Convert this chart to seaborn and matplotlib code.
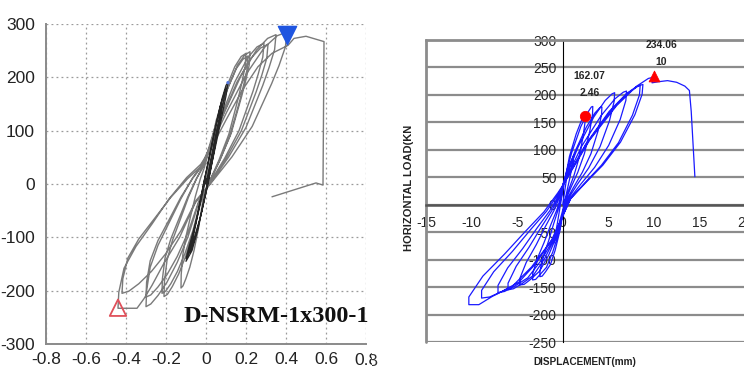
import matplotlib
matplotlib.use("Agg")
import matplotlib.pyplot as plt
import seaborn as sns
import pandas as pd
from matplotlib import font_manager
from matplotlib.transforms import Bbox, TransformedBbox

# ---------------- data: left panel (D-NSRM-1x300-1) ----------------
left_core_disp = [0, 0.02, 0.05, 0.08, 0.07, 0.04, 0.01, -0.02, -0.05, -0.08, -0.07, -0.04, -0.01, 0.02, 0.05,
                  0.08, 0.1, 0.11, 0.1, 0.07, 0.03, 0, -0.03, -0.07, -0.1, -0.09, -0.05, -0.02, 0.01, 0.04,
                  0.07, 0.1, 0.09, 0.06, 0.02, -0.01, -0.04, -0.07, -0.1, -0.08, -0.04, 0]
left_core_load = [0, 40, 95, 150, 125, 60, 0, -50, -95, -130, -110, -55, 5, 55, 110,
                  160, 185, 190, 165, 110, 40, -15, -65, -115, -140, -125, -70, -15, 40, 95,
                  145, 180, 160, 105, 30, -30, -85, -125, -145, -120, -55, 10]

left_disp = [0.0, 0.02,
             0.05, 0.1, 0.144, 0.176, 0.2, 0.196, 0.18, 0.162, 0.114, 0.064, 0.014,
             -0.015, -0.038, -0.06, -0.081, -0.1, -0.115, -0.125,
             -0.124, -0.116, -0.1, -0.078, -0.053, -0.028, -0.008,
             0.053, 0.105, 0.151, 0.185, 0.21, 0.206, 0.189, 0.17, 0.12, 0.067, 0.015,
             -0.025, -0.063, -0.101, -0.137, -0.168, -0.193, -0.21,
             -0.208, -0.195, -0.168, -0.13, -0.088, -0.046, -0.013,
             0.055, 0.11, 0.158, 0.194, 0.22, 0.216, 0.198, 0.178, 0.125, 0.07, 0.015,
             -0.026, -0.066, -0.106, -0.143, -0.176, -0.202, -0.22,
             -0.218, -0.205, -0.176, -0.136, -0.092, -0.048, -0.013,
             0.073, 0.145, 0.209, 0.255, 0.29, 0.284, 0.261, 0.235, 0.165, 0.093, 0.02,
             -0.036, -0.09, -0.144, -0.195, -0.24, -0.276, -0.3,
             -0.297, -0.279, -0.24, -0.186, -0.126, -0.066, -0.018,
             0.078, 0.155, 0.223, 0.273, 0.31, 0.304, 0.279, 0.251, 0.177, 0.099, 0.022,
             -0.036, -0.09, -0.144, -0.195, -0.24, -0.276, -0.3,
             -0.297, -0.279, -0.24, -0.186, -0.126, -0.066, -0.018,
             0.088, 0.175, 0.252, 0.308, 0.35, 0.343, 0.315, 0.284, 0.2, 0.112, 0.025,
             -0.05, -0.126, -0.202, -0.273, -0.336, -0.386, -0.42,
             -0.416, -0.391, -0.336, -0.26, -0.176, -0.092, -0.025,
             0.101, 0.203, 0.292, 0.356, 0.405, 0.397, 0.365, 0.328, 0.231, 0.13, 0.028,
             -0.053, -0.132, -0.211, -0.27, -0.31, -0.345, -0.44,
             -0.436, -0.41, -0.35, -0.27, -0.185, -0.097, -0.026,
             0.03, 0.1, 0.18, 0.26, 0.33, 0.41, 0.44, 0.5, 0.59, 0.585, 0.55, 0.33]
left_load = [10, 60,
             118, 179, 220, 239, 245, 221, 191, 162, 93, 44, 2,
             -29, -84, -125, -156, -177, -191, -195,
             -170, -133, -98, -62, -23, 10, 31,
             116, 176, 216, 234, 240, 216, 187, 158, 91, 43, 2,
             -32, -91, -135, -169, -192, -207, -211,
             -184, -143, -106, -68, -25, 11, 34,
             119, 181, 223, 242, 248, 223, 193, 164, 94, 45, 2,
             -31, -88, -131, -164, -187, -201, -205,
             -178, -139, -103, -66, -25, 10, 33,
             125, 192, 237, 257, 264, 238, 206, 174, 100, 48, 3,
             -35, -99, -147, -184, -209, -225, -230,
             -200, -156, -115, -74, -28, 12, 37,
             124, 191, 235, 255, 262, 236, 204, 173, 100, 47, 3,
             -32, -91, -136, -170, -193, -208, -212,
             -184, -144, -106, -68, -25, 11, 34,
             131, 203, 251, 273, 280, 252, 218, 185, 106, 50, 3,
             -31, -88, -131, -164, -187, -201, -205,
             -178, -139, -103, -66, -25, 10, 33,
             133, 207, 256, 278, 285, 257, 222, 188, 108, 51, 3,
             -35, -100, -149, -190, -215, -233, -233,
             -203, -158, -117, -75, -28, 12, 37,
             70, 120, 175, 220, 245, 260, 273, 277, 267, -2, 2, -24]

left_max_disp, left_max_load = [0.405], [279]
left_min_disp, left_min_load = [-0.44], [-232]
left_mark_disp, left_mark_load = [0.11], [190]

left_xticks = [-0.8, -0.6, -0.4, -0.2, 0, 0.2, 0.4, 0.6, 0.8]
left_xticklabels = ["-0.8", "-0.6", "-0.4", "-0.2", "0", "0.2", "0.4", "0.6", "0.8"]
left_yticks = [-300, -200, -100, 0, 100, 200, 300]
left_yticklabels = ["-300", "-200", "-100", "0", "100", "200", "300"]
left_title = "D-NSRM-1x300-1"

# ---------------- data: right panel ----------------
right_disp = [0, 0.4, 0.8, 1.2, 1.15, 0.8, 0.4, 0, -0.4, -0.8, -1.0, -0.9, -0.6, -0.3, 0,
              0.74, 1.48, 2.02, 2.34, 2.46, 2.44, 2.21, 1.77, 1.23, 0.69, 0.25,
              -0.3, -0.83, -1.35, -1.88, -2.25, -2.5, -2.5, -2.13, -1.55, -1.0, -0.5, -0.13, 0,
              0.99, 1.98, 2.71, 3.14, 3.3, 3.27, 2.97, 2.38, 1.65, 0.92, 0.33,
              -0.4, -1.09, -1.78, -2.48, -2.97, -3.3, -3.3, -2.81, -2.05, -1.32, -0.66, -0.17, 0,
              1.29, 2.58, 3.53, 4.09, 4.3, 4.26, 3.87, 3.1, 2.15, 1.2, 0.43,
              -0.56, -1.55, -2.54, -3.53, -4.23, -4.7, -4.7, -4.0, -2.91, -1.88, -0.94, -0.24, 0,
              1.71, 3.42, 4.67, 5.42, 5.7, 5.64, 5.13, 4.1, 2.85, 1.6, 0.57,
              -0.72, -1.98, -3.24, -4.5, -5.4, -6.0, -6.0, -5.1, -3.72, -2.4, -1.2, -0.3, 0,
              2.1, 4.2, 5.74, 6.65, 7.0, 6.93, 6.3, 5.04, 3.5, 1.96, 0.7,
              -0.85, -2.34, -3.83, -5.33, -6.39, -7.1, -7.1, -6.04, -4.4, -2.84, -1.42, -0.36, 0,
              2.55, 5.1, 6.97, 8.08, 8.5, 8.42, 7.65, 6.12, 4.25, 2.38, 0.85,
              -1.07, -2.94, -4.81, -6.68, -8.01, -8.9, -8.9, -7.57, -5.52, -3.56, -1.78, -0.45, 0,
              2.64, 5.28, 7.22, 8.36, 8.8, 8.71, 7.92, 6.34, 4.4, 2.46, 0.88,
              -1.24, -3.4, -5.56, -7.73, -9.2, -10.3, -10.3, -8.76, -6.39, -4.12, -2.06, -0.52, 0,
              2.97, 5.94, 8.12, 9.4, 9.9, 9.8, 10.5, 11.5, 12.5, 13.4, 13.9, 14.1, 14.3, 14.5]
right_load = [0, 45, 75, 90, 80, 50, 20, -10, -35, -60, -70, -62, -35, -5, 25,
              88, 129, 152, 161, 162, 149, 122, 84, 53, 29, 8,
              -47, -83, -109, -122, -130, -131, -121, -94, -66, -35, -9, 16, 35,
              95, 142, 167, 178, 179, 165, 134, 93, 59, 32, 9,
              -49, -86, -114, -127, -136, -137, -126, -99, -69, -37, -10, 16, 35,
              95, 141, 167, 177, 178, 164, 134, 93, 59, 32, 9,
              -53, -92, -121, -136, -145, -146, -134, -105, -73, -39, -10, 18, 35,
              106, 160, 190, 202, 204, 188, 153, 106, 67, 37, 10,
              -56, -98, -129, -144, -153, -155, -143, -112, -78, -42, -11, 19, 35,
              107, 162, 193, 205, 207, 190, 155, 108, 68, 37, 10,
              -58, -101, -133, -149, -158, -160, -147, -115, -80, -43, -11, 19, 35,
              111, 170, 202, 215, 217, 200, 163, 113, 72, 39, 11,
              -61, -107, -141, -158, -168, -170, -156, -122, -85, -46, -12, 20, 35,
              112, 171, 204, 217, 219, 201, 164, 114, 72, 39, 11,
              -65, -113, -149, -167, -182, -182, -168, -130, -90, -49, -13, 22, 35,
              118, 181, 216, 230, 232, 222, 224, 226, 223, 216, 208, 170, 110, 51]

right_peak_disp = [2.46, 10]
right_peak_load = [162.07, 234.06]

right_xticks = [-15, -10, -5, 0, 5, 10, 15, 20]
right_yticks = [-250, -200, -150, -100, -50, 0, 50, 100, 150, 200, 250, 300]
right_xlabel = "DISPLACEMENT(mm)"
right_ylabel = "HORIZONTAL LOAD(KN"
corner_letter = "B"

# ---------------- figure ----------------
sns.set_style("white")
names = {f.name for f in font_manager.fontManager.ttflist}
narrow = "Liberation Sans Narrow" if "Liberation Sans Narrow" in names else "Liberation Sans"
plt.rcParams["font.family"] = ["Liberation Sans", "DejaVu Sans"]

W, H = 744, 368
fig = plt.figure(figsize=(W / 100, H / 100), dpi=100)
ax1 = fig.add_axes([46 / W, 1 - 344 / H, 320 / W, 320 / H])
ax2 = fig.add_axes([426 / W, 1 - 342 / H, 319 / W, 302 / H])

# ---- left panel ----
df_core = pd.DataFrame({"disp": left_core_disp, "load": left_core_load})
df_left = pd.DataFrame({"disp": left_disp, "load": left_load})
sns.lineplot(data=df_left, x="disp", y="load", sort=False, estimator=None,
             color="#7a7a7a", lw=1.0, ax=ax1, zorder=3)
sns.lineplot(data=df_core, x="disp", y="load", sort=False, estimator=None,
             color="#262626", lw=0.9, ax=ax1, zorder=4)
sns.scatterplot(x=left_max_disp, y=left_max_load, marker="v", s=170, color="#1f55e0",
                edgecolor="#1f55e0", ax=ax1, zorder=6)
sns.scatterplot(x=left_min_disp, y=left_min_load, marker="^", s=140, facecolor="none",
                edgecolor="#e0505a", linewidth=1.3, ax=ax1, zorder=6)
sns.scatterplot(x=left_mark_disp, y=left_mark_load, marker="o", s=6, color="#5577dd",
                edgecolor="none", ax=ax1, zorder=6)

ax1.set_xlim(-0.8, 0.8)
ax1.set_ylim(-300, 300)
tick_font = dict(fontsize=12.5, family=[narrow, "Liberation Sans"], color="#222222")
ax1.set_xticks(left_xticks, left_xticklabels[:-1] + [""], **tick_font)
ax1.set_yticks(left_yticks, left_yticklabels, **tick_font)
ax1.grid(True, color="#9a9a9a", linestyle=(0, (1.5, 2.5)), lw=0.9)
ax1.set_axisbelow(True)
for s in ["top", "right"]:
    ax1.spines[s].set_visible(False)
for s in ["left", "bottom"]:
    ax1.spines[s].set_color("#8a8a8a")
    ax1.spines[s].set_linewidth(1.4)
ax1.tick_params(axis="both", length=2, color="#9a9a9a")
ax1.tick_params(axis="y", pad=6)
ax1.tick_params(axis="x", pad=4)
ax1.set_xlabel("")
ax1.set_ylabel("")
ax1.text(0.35, -248, left_title, ha="center", va="center", fontsize=17.5,
         family="Liberation Serif", fontweight="bold", color="#111111", zorder=7)

# last x tick label, cut at the panel edge like the reference
last = fig.text(366 / W, 1 - 353 / H, left_xticklabels[-1], ha="center", va="top", **tick_font)
last.set_clip_on(True)
last.set_clip_box(TransformedBbox(Bbox([[0, 0], [372 / W, 1]]), fig.transFigure))

# ---- right panel ----
df_right = pd.DataFrame({"disp": right_disp, "load": right_load})
sns.lineplot(data=df_right, x="disp", y="load", sort=False, estimator=None,
             color="#1a1aff", lw=0.9, ax=ax2, zorder=3)
sns.scatterplot(x=right_peak_disp[:1], y=right_peak_load[:1], marker="o", s=55, color="#ff0000",
                edgecolor="#ff0000", ax=ax2, zorder=6)
sns.scatterplot(x=right_peak_disp[1:], y=right_peak_load[1:], marker="^", s=60, color="#ff0000",
                edgecolor="#ff0000", ax=ax2, zorder=6)

ax2.set_xlim(-15, 20)
ax2.set_ylim(-250, 300)
ax2.set_xticks(right_xticks, [str(v) for v in right_xticks], fontsize=7.2)
ax2.set_yticks(right_yticks, [str(v) for v in right_yticks], fontsize=6.8)
ax2.yaxis.grid(True, color="#8c8c8c", lw=1.6)
ax2.xaxis.grid(False)
ax2.set_axisbelow(True)
ax2.spines["left"].set_position(("data", 0))
ax2.spines["left"].set_color("black")
ax2.spines["left"].set_linewidth(0.8)
ax2.spines["bottom"].set_position(("data", 0))
ax2.spines["bottom"].set_color("#555555")
ax2.spines["bottom"].set_linewidth(1.8)
ax2.spines["top"].set_color("#8c8c8c")
ax2.spines["top"].set_linewidth(2)
ax2.spines["right"].set_visible(False)
ax2.axvline(-15, color="#8c8c8c", lw=2, clip_on=False, zorder=2)
ax2.tick_params(axis="y", direction="out", length=3, width=0.8, pad=1.5, color="black")
ax2.tick_params(axis="x", direction="out", length=4, width=0.8, pad=4, color="#555555")
ax2.set_xlabel("")
ax2.set_ylabel("")

for xd, yd in zip(right_peak_disp, right_peak_load):
    dx = 0.5 if xd < 5 else 0.84
    ax2.text(xd + dx, yd + 73 if xd < 5 else yd + 56, f"{yd:.2f}", ha="center", va="center",
             fontsize=7.5, fontweight="bold", zorder=7)
    ax2.text(xd + dx, yd + 42 if xd < 5 else yd + 25, f"{xd:g}", ha="center", va="center",
             fontsize=7.5, fontweight="bold", zorder=7)

fig.text(409 / W, 1 - 188 / H, right_ylabel, rotation=90, ha="center", va="center",
         fontsize=8, fontweight="bold", color="#222222")
fig.text(585 / W, 1 - 362 / H, right_xlabel, ha="center", va="center",
         fontsize=7.2, fontweight="bold", family=[narrow, "Liberation Sans"], color="#222222")
bt = fig.text(372.5 / W, 1 - 361 / H, corner_letter, ha="center", va="center",
              fontsize=12, color="#333333")
bt.set_clip_on(True)
bt.set_clip_box(TransformedBbox(Bbox([[372 / W, 0], [1, 1]]), fig.transFigure))

fig.savefig("out.png", dpi=100)
